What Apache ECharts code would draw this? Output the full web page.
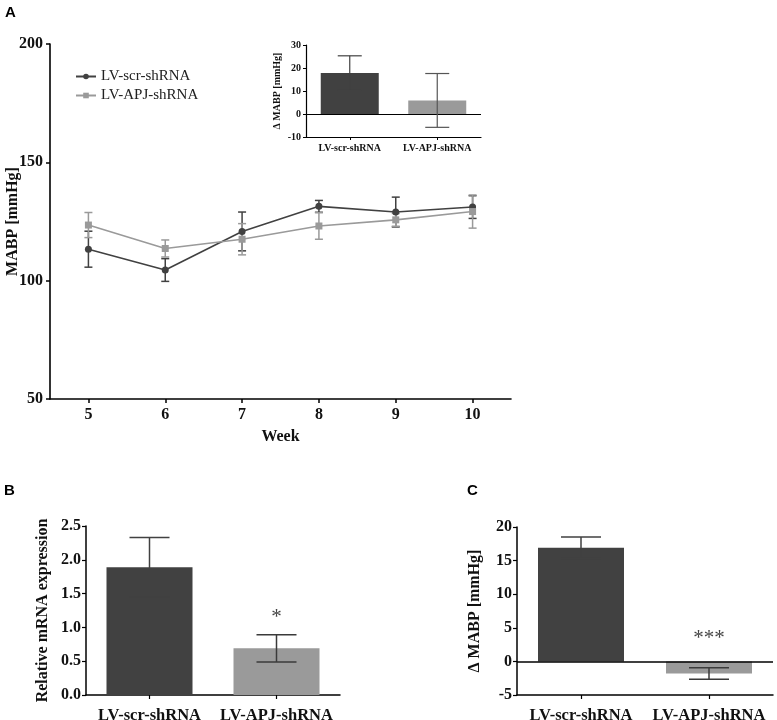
<!DOCTYPE html>
<html>
<head>
<meta charset="utf-8">
<script src="https://cdn.jsdelivr.net/npm/echarts@6/dist/echarts.min.js"></script>
<style>html,body{margin:0;padding:0;background:#fff}#c{width:777px;height:720px}</style>
</head>
<body>
<div id="c"></div>
<script>
// ---- Data ----
const weeks = ['5', '6', '7', '8', '9', '10'];
const scrMean = [113.3, 104.5, 120.8, 131.4, 129.0, 131.1];
const scrSem = [7.6, 4.8, 8.2, 2.5, 6.3, 4.8];
const apjMean = [123.5, 113.6, 117.5, 123.1, 125.7, 129.2];
const apjSem = [5.3, 3.6, 6.6, 5.6, 2.7, 7.0];

const groups = ['LV-scr-shRNA', 'LV-APJ-shRNA'];
const insetMean = [17.8, 5.9];
const insetSem = [7.5, 11.7];

const mrnaMean = [1.89, 0.69];
const mrnaSem = [0.44, 0.20];
const mrnaSig = ['', '*'];
const mrnaSigY = [null, 1.15];

const dMean = [16.9, -1.8];
const dSem = [1.6, 0.85];
const dSig = ['', '***'];
const dSigY = [null, 3.4];

// ---- Styles ----
const DARK = '#414141';
const LIGHT = '#9a9a9a';
const SERIF = '"Liberation Serif", "Times New Roman", serif';
const barColors = [DARK, LIGHT];

const chart = echarts.init(document.getElementById('c'), null, {renderer: 'canvas'});

function errSeries(xi, yi, means, sems, color, capHalf, lw, z) {
  return {
    type: 'custom', xAxisIndex: xi, yAxisIndex: yi, z: z, silent: true,
    data: means.map((m, i) => [i, m, sems[i]]),
    encode: {x: 0, y: 1},
    renderItem: function (params, api) {
      const i = api.value(0), m = api.value(1), s = api.value(2);
      const top = api.coord([i, m + s]);
      const bot = api.coord([i, m - s]);
      const c = Array.isArray(color) ? color[params.dataIndex] : color;
      const st = {stroke: c, lineWidth: lw};
      return {type: 'group', children: [
        {type: 'line', shape: {x1: top[0], y1: top[1], x2: bot[0], y2: bot[1]}, style: st},
        {type: 'line', shape: {x1: top[0] - capHalf, y1: top[1], x2: top[0] + capHalf, y2: top[1]}, style: st},
        {type: 'line', shape: {x1: bot[0] - capHalf, y1: bot[1], x2: bot[0] + capHalf, y2: bot[1]}, style: st}
      ]};
    }
  };
}

function sigSeries(xi, yi, ys, labels) {
  return {
    type: 'scatter', xAxisIndex: xi, yAxisIndex: yi, symbolSize: 0, silent: true,
    data: ys.map((y, i) => y == null ? null : [i, y, labels[i]]).filter(d => d),
    label: {show: true, position: 'inside', formatter: p => p.data[2],
      fontFamily: SERIF, fontSize: 21, color: '#111'}
  };
}

const axLine = (w) => ({show: true, lineStyle: {color: '#000', width: w}});
const tick = (len, w) => ({show: true, inside: false, length: len, lineStyle: {color: '#000', width: w}});
const lbl = (size, margin, extra) => Object.assign({fontFamily: SERIF, fontWeight: 'bold', fontSize: size, color: '#111', margin: margin, interval: 0}, extra || {});
const nameStyle = (size) => ({fontFamily: SERIF, fontWeight: 'bold', fontSize: size, color: '#111'});

const option = {
  animation: false,
  backgroundColor: '#fff',
  grid: [
    {left: 50, top: 44, width: 461, height: 355, outerBoundsMode: 'none', containLabel: false},
    {left: 306, top: 45, width: 175, height: 92, outerBoundsMode: 'none', containLabel: false},
    {left: 86, top: 526, width: 254, height: 169, outerBoundsMode: 'none', containLabel: false},
    {left: 517, top: 527, width: 256, height: 168, outerBoundsMode: 'none', containLabel: false}
  ],
  legend: {
    orient: 'vertical', left: 70, top: 64, itemWidth: 20, itemHeight: 7, itemGap: 4,
    data: ['LV-scr-shRNA', 'LV-APJ-shRNA'],
    textStyle: {fontFamily: SERIF, fontSize: 15, color: '#222'}
  },
  xAxis: [
    {gridIndex: 0, type: 'category', data: weeks, boundaryGap: true,
     axisLine: axLine(1.6), axisTick: Object.assign(tick(4, 1.5), {alignWithLabel: true}),
     axisLabel: lbl(16, 8), splitLine: {show: false},
     name: 'Week', nameLocation: 'middle', nameGap: 30, nameMoveOverlap: false, nameTextStyle: nameStyle(16)},
    {gridIndex: 1, type: 'category', data: groups, boundaryGap: true,
     axisLine: Object.assign(axLine(1.2), {onZero: false}), axisTick: Object.assign(tick(3, 1), {alignWithLabel: true}),
     axisLabel: lbl(10, 6)},
    {gridIndex: 2, type: 'category', data: groups, boundaryGap: true,
     axisLine: axLine(1.5), axisTick: Object.assign(tick(4, 1.2), {alignWithLabel: true}),
     axisLabel: lbl(16.5, 12)},
    {gridIndex: 3, type: 'category', data: groups, boundaryGap: true,
     axisLine: Object.assign(axLine(1.5), {onZero: false}), axisTick: Object.assign(tick(4, 1.2), {alignWithLabel: true}),
     axisLabel: lbl(16.5, 12)}
  ],
  yAxis: [
    {gridIndex: 0, type: 'value', min: 50, max: 200, interval: 50,
     axisLine: axLine(1.6), axisTick: tick(4, 1.5), axisLabel: lbl(16, 7), splitLine: {show: false},
     name: 'MABP [mmHg]', nameLocation: 'middle', nameGap: 29, nameMoveOverlap: false, nameTextStyle: nameStyle(16)},
    {gridIndex: 1, type: 'value', min: -10, max: 30, interval: 10,
     axisLine: axLine(1.2), axisTick: tick(3, 1), axisLabel: lbl(10, 5), splitLine: {show: false},
     name: 'Δ MABP [mmHg]', nameLocation: 'middle', nameGap: 24, nameTextStyle: nameStyle(10)},
    {gridIndex: 2, type: 'value', min: 0, max: 2.5, interval: 0.5,
     axisLine: axLine(1.5), axisTick: tick(4, 1.2),
     axisLabel: lbl(16, 5, {formatter: v => v.toFixed(1)}), splitLine: {show: false},
     name: 'Relative mRNA expression', nameLocation: 'middle', nameGap: 35, nameTextStyle: nameStyle(16)},
    {gridIndex: 3, type: 'value', min: -5, max: 20, interval: 5,
     axisLine: axLine(1.5), axisTick: tick(4, 1.2), axisLabel: lbl(16, 5), splitLine: {show: false},
     name: 'Δ MABP [mmHg]', nameLocation: 'middle', nameGap: 34, nameTextStyle: nameStyle(16)}
  ],
  graphic: [
    {type: 'text', left: 5, top: 5, style: {text: 'A', font: 'bold 15px "Liberation Sans Narrow", "Liberation Sans", Arial, sans-serif', fill: '#000'}},
    {type: 'text', left: 4, top: 483, style: {text: 'B', font: 'bold 15px "Liberation Sans", Arial, sans-serif', fill: '#000'}},
    {type: 'text', left: 467, top: 483, style: {text: 'C', font: 'bold 15px "Liberation Sans", Arial, sans-serif', fill: '#000'}}
  ],
  series: [
    // Panel A lines
    errSeries(0, 0, scrMean, scrSem, DARK, 4, 1.5, 3),
    errSeries(0, 0, apjMean, apjSem, LIGHT, 4, 1.5, 3),
    {name: 'LV-scr-shRNA', type: 'line', xAxisIndex: 0, yAxisIndex: 0, data: scrMean,
     symbol: 'circle', symbolSize: 7, color: DARK, lineStyle: {width: 1.6, color: DARK},
     itemStyle: {color: DARK}, z: 4},
    {name: 'LV-APJ-shRNA', type: 'line', xAxisIndex: 0, yAxisIndex: 0, data: apjMean,
     symbol: 'rect', symbolSize: 7, color: LIGHT, lineStyle: {width: 1.6, color: LIGHT},
     itemStyle: {color: LIGHT}, z: 4},
    // Inset
    {type: 'bar', xAxisIndex: 1, yAxisIndex: 1, barWidth: 58, z: 2,
     data: insetMean.map((v, i) => ({value: v, itemStyle: {color: barColors[i]}})),
     markLine: {silent: true, symbol: 'none', label: {show: false}, animation: false,
       lineStyle: {color: '#000', width: 1.2, type: 'solid'}, data: [{yAxis: 0}]}},
    errSeries(1, 1, insetMean, insetSem, [DARK, '#555'], 12, 1.2, 5),
    // Panel B
    {type: 'bar', xAxisIndex: 2, yAxisIndex: 2, barWidth: 86, z: 2,
     data: mrnaMean.map((v, i) => ({value: v, itemStyle: {color: barColors[i]}}))},
    errSeries(2, 2, mrnaMean, mrnaSem, [DARK, '#3a3a3a'], 20, 1.5, 5),
    sigSeries(2, 2, mrnaSigY, mrnaSig),
    // Panel C
    {type: 'bar', xAxisIndex: 3, yAxisIndex: 3, barWidth: 86, z: 2,
     data: dMean.map((v, i) => ({value: v, itemStyle: {color: barColors[i]}})),
     markLine: {silent: true, symbol: 'none', label: {show: false}, animation: false,
       lineStyle: {color: '#000', width: 1.5, type: 'solid'}, data: [{yAxis: 0}]}},
    errSeries(3, 3, dMean, dSem, [DARK, '#3a3a3a'], 20, 1.5, 5),
    sigSeries(3, 3, dSigY, dSig)
  ]
};
chart.setOption(option);
</script>
</body>
</html>
